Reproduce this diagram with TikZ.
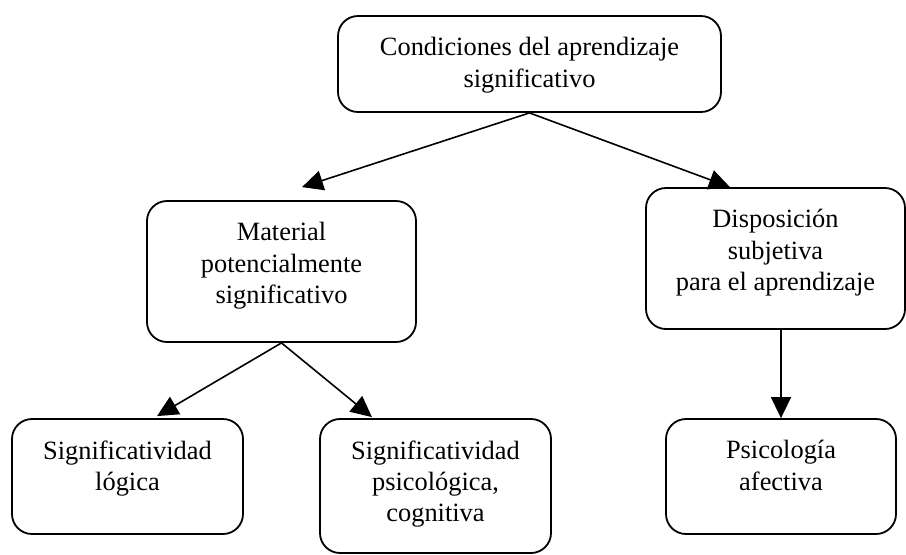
\documentclass[tikz,border=0pt]{standalone}
\usepackage{fontspec}
\setmainfont{Liberation Serif}
\usepackage{tikz}
\usetikzlibrary{arrows.meta,positioning,calc}

\begin{document}
\begin{tikzpicture}[x=0.5pt, y=-0.5pt,
    box/.style={draw=black, line width=0.9pt, rounded corners=10pt, inner sep=0pt},
    txt/.style={align=center, inner sep=0pt, anchor=north, font=\fontsize{13.2}{15.6}\selectfont},
    arr/.style={line width=0.8pt, -{Triangle[length=10.5pt, width=10pt]}}]
    \useasboundingbox (0,0) rectangle (906,554);
    % Draw boxes
    \node[box, minimum width=191.5pt, minimum height=48pt] (cond) at (529.5, 64) {};
    \node[box, minimum width=134.5pt, minimum height=70.5pt] (mat) at (281.5, 271.5) {};
    \node[box, minimum width=129.5pt, minimum height=70.5pt] (disp) at (775.5, 258.5) {};
    \node[box, minimum width=115.5pt, minimum height=57.5pt] (slog) at (127.5, 476.5) {};
    \node[box, minimum width=115.5pt, minimum height=67pt] (spsi) at (435.5, 486) {};
    \node[box, minimum width=115pt, minimum height=57.5pt] (paf) at (781, 476.5) {};
    % Texts, set from the top of each box
    \node[txt] (condtxt) at ([yshift=-11pt]cond.north) {Condiciones del aprendizaje\\significativo};
    \node[txt] (mattxt) at ([yshift=-11pt]mat.north) {Material\\potencialmente\\significativo};
    \node[txt] (disptxt) at ([yshift=-11pt]disp.north) {Disposición\\subjetiva\\para el aprendizaje};
    \node[txt] (slogtxt) at ([yshift=-11pt]slog.north) {Significatividad\\lógica};
    \node[txt] (spsitxt) at ([yshift=-11pt]spsi.north) {Significatividad\\psicológica,\\cognitiva};
    \node[txt] (paftxt) at ([yshift=-11pt]paf.north) {Psicología\\afectiva};
    % Draw arrows
    \draw[arr] (cond.south) -- ($(mat.north)+(20.5,-13)$);
    \draw[arr] (cond.south) -- ($(disp.north)+(-45.5,0)$);
    \draw[arr] (mat.south) -- ($(slog.north)+(29.5,-2)$);
    \draw[arr] (mat.south) -- ($(spsi.north)+(-63.5,-1)$);
    \draw[arr] (paf.north |- disp.south) -- (paf.north);
\end{tikzpicture}
\end{document}
